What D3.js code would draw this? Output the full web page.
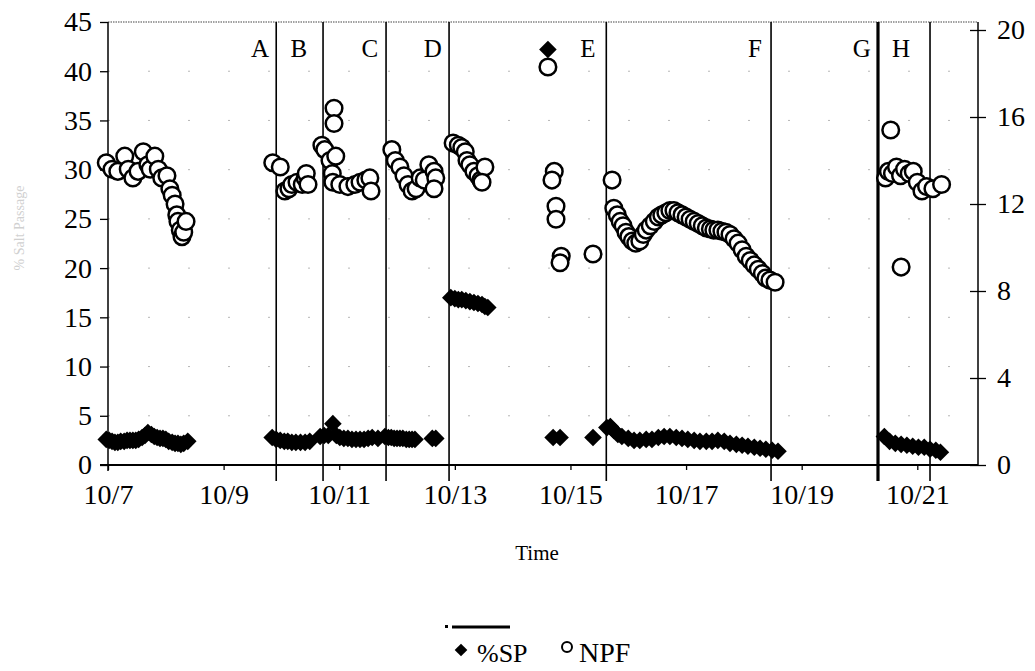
<!DOCTYPE html>
<html><head><meta charset="utf-8">
<script src="https://cdn.jsdelivr.net/npm/d3@7"></script>
<style>body{margin:0;background:#fff} text{font-family:"Liberation Serif","Times New Roman",serif}</style>
</head><body><svg id="c" width="1035" height="671"></svg>
<script>
// time = day of October (fractional)
const spTime=[6.97,7.02,7.07,7.12,7.17,7.22,7.28,7.33,7.38,7.43,7.48,7.53,7.59,7.64,7.69,7.75,7.80,7.85,7.90,7.95,8.00,8.05,8.11,8.16,8.21,8.26,8.31,8.38,
 9.84,9.91,9.98,10.05,10.11,10.18,10.25,10.33,10.41,10.49,
 10.67,10.74,10.81,10.89,10.95,11.01,11.08,11.15,11.22,11.29,11.36,11.43,11.50,11.57,11.67,
 11.79,11.85,11.90,11.95,12.00,12.05,12.10,12.16,12.21,12.26,12.31,12.61,12.67,
 12.93,13.00,13.06,13.12,13.19,13.26,13.33,13.40,13.47,13.52,13.57,
 14.61,14.70,14.82,15.39,
 15.63,15.69,15.75,15.82,15.89,16.00,16.10,16.20,16.31,16.41,16.52,16.62,16.72,16.83,16.93,17.03,17.14,17.24,17.35,17.45,17.55,17.66,17.76,17.87,17.97,18.07,18.18,18.28,18.38,18.49,18.59,
 20.43,20.52,20.62,20.72,20.82,20.92,21.02,21.12,21.22,21.32,21.40];
const spValue=[2.6,2.5,2.4,2.3,2.3,2.4,2.4,2.5,2.5,2.5,2.5,2.6,2.8,3.0,3.3,3.1,2.9,2.8,2.7,2.7,2.6,2.4,2.3,2.2,2.2,2.1,2.2,2.4,
 2.8,2.6,2.5,2.4,2.4,2.3,2.3,2.3,2.3,2.4,
 2.9,3.0,3.0,4.2,3.0,2.8,2.7,2.7,2.6,2.6,2.6,2.6,2.7,2.8,2.7,
 2.9,2.8,2.8,2.7,2.7,2.7,2.7,2.6,2.6,2.6,2.6,2.7,2.7,
 17.0,16.9,16.8,16.8,16.7,16.6,16.5,16.4,16.3,16.1,16.0,
 42.2,2.8,2.8,2.8,
 3.8,3.9,3.5,3.1,2.9,2.7,2.5,2.5,2.6,2.6,2.8,2.9,2.9,2.8,2.7,2.6,2.5,2.4,2.4,2.4,2.5,2.4,2.2,2.1,2.0,1.9,1.8,1.7,1.6,1.5,1.4,
 2.9,2.4,2.2,2.1,2.0,1.9,1.8,1.8,1.6,1.5,1.3];
const npfTime=[6.97,7.07,7.17,7.29,7.35,7.43,7.52,7.61,7.69,7.73,7.81,7.87,7.93,8.02,8.07,8.11,8.16,8.19,8.21,8.25,8.28,8.31,8.35,
 9.85,9.98,10.06,10.13,10.18,10.27,10.36,10.41,10.43,10.46,
 10.70,10.75,10.84,10.94,10.91,10.91,10.88,10.89,11.01,11.15,11.27,11.36,11.46,11.53,11.55,
 11.91,11.97,12.05,12.12,12.19,12.26,12.33,12.40,12.47,12.55,12.64,12.67,12.64,
 12.97,13.06,13.12,13.18,13.21,13.26,13.33,13.40,13.45,13.52,13.47,
 14.61,14.72,14.68,14.75,14.75,14.84,14.82,15.39,
 15.72,15.75,15.81,15.86,15.91,15.96,16.01,16.07,16.13,16.20,16.26,16.31,16.38,16.45,16.52,16.58,16.65,16.72,16.79,16.86,16.93,17.00,17.07,17.14,17.21,17.28,17.35,17.42,17.48,17.55,17.62,17.69,17.76,17.83,17.90,17.97,18.04,18.11,18.18,18.25,18.32,18.38,18.45,18.54,
 20.54,20.45,20.50,20.57,20.64,20.71,20.78,20.86,20.93,21.00,21.08,21.16,21.27,21.42,20.72];
const npfValue=[13.9,13.6,13.5,14.2,13.6,13.2,13.5,14.4,13.8,13.6,14.2,13.6,13.2,13.3,12.7,12.4,12.0,11.5,11.2,10.8,10.5,10.7,11.2,
 13.9,13.7,12.6,12.7,12.9,13.0,12.9,13.2,13.4,12.9,
 14.7,14.5,14.0,14.2,16.4,15.7,13.4,13.0,12.9,12.8,12.9,13.0,13.1,13.2,12.6,
 14.5,14.0,13.7,13.3,12.9,12.6,12.7,13.2,13.1,13.8,13.5,13.2,12.7,
 14.8,14.7,14.6,14.4,14.0,13.8,13.5,13.3,13.1,13.7,13.0,
 18.3,13.5,13.1,11.9,11.3,9.6,9.3,9.7,
 13.1,11.8,11.5,11.2,11.0,10.7,10.5,10.3,10.2,10.3,10.6,10.8,11.0,11.2,11.4,11.5,11.6,11.7,11.7,11.6,11.5,11.4,11.3,11.2,11.1,11.0,10.9,10.85,10.8,10.8,10.75,10.7,10.6,10.4,10.2,9.9,9.6,9.4,9.2,9.0,8.8,8.6,8.5,8.4,
 15.4,13.2,13.5,13.4,13.7,13.3,13.6,13.4,13.5,13.0,12.6,12.8,12.7,12.9,9.1];
const eventTimes=[9.91,10.72,11.81,12.90,15.62,18.47,20.32,21.22];
const eventLabels=["A","B","C","D","E","F","G","H"];
const labelTimes=[9.63,10.30,11.53,12.62,15.30,18.19,20.04,20.72];
const xTicks=[7,9,11,13,15,17,19,21];
const xTickLabels=["10/7","10/9","10/11","10/13","10/15","10/17","10/19","10/21"];
const leftTicks=[0,5,10,15,20,25,30,35,40,45];
const rightTicks=[0,4,8,12,16,20];
const seriesNames=["%SP","NPF"];
const xTitle="Time", yTitle="% Salt Passage";

const svg=d3.select("#c");
const L=108,R=978,T=22,B=465;
const x=d3.scaleLinear().domain([7,22.05]).range([L,R]);
const yL=d3.scaleLinear().domain([0,45]).range([B,T]);
const yR=d3.scaleLinear().domain([0,20]).range([B,30]);

// faint gridlines
svg.append("g").selectAll("line").data(leftTicks.filter(d=>d>0&&d<45)).join("line")
 .attr("x1",L).attr("x2",R).attr("y1",d=>yL(d)).attr("y2",d=>yL(d))
 .attr("stroke","#888").attr("stroke-width",1).attr("stroke-dasharray","2,38").attr("opacity",0.6);
// top dotted border
svg.append("line").attr("x1",L).attr("x2",R).attr("y1",T).attr("y2",T)
 .attr("stroke","#444").attr("stroke-width",1.2).attr("stroke-dasharray","1.5,1");

// axes
const ax=svg.append("g").attr("transform",`translate(${L},0)`)
 .call(d3.axisLeft(yL).tickValues(leftTicks).tickSize(8).tickPadding(8));
ax.select(".domain").remove();
const ar=svg.append("g").attr("transform",`translate(${R},0)`)
 .call(d3.axisRight(yR).tickValues(rightTicks).tickSize(8).tickPadding(11));
ar.select(".domain").remove();
ar.selectAll(".tick line").attr("x1",-8);
const ab=svg.append("g").attr("transform",`translate(0,${B})`)
 .call(d3.axisBottom(x).tickValues(xTicks).tickFormat((d,i)=>xTickLabels[i]).tickSize(5).tickPadding(14));
ab.select(".domain").remove();
[ax,ar,ab].forEach(g=>{g.selectAll("text").attr("font-size",28).attr("fill","#000").attr("font-family","Liberation Serif");
 g.selectAll(".tick line").attr("stroke","#000").attr("stroke-width",1.3);});
svg.append("line").attr("x1",L).attr("x2",L).attr("y1",T).attr("y2",B+6).attr("stroke","#000").attr("stroke-width",1.5);
svg.append("line").attr("x1",R).attr("x2",R).attr("y1",T).attr("y2",B).attr("stroke","#000").attr("stroke-width",1.5);
svg.append("line").attr("x1",L-8).attr("x2",R).attr("y1",B).attr("y2",B).attr("stroke","#000").attr("stroke-width",1.8);

// event lines
svg.append("g").selectAll("line").data(eventTimes).join("line")
 .attr("x1",d=>x(d)).attr("x2",d=>x(d)).attr("y1",T).attr("y2",B+16)
 .attr("stroke","#000").attr("stroke-width",(d,i)=>eventLabels[i]==="G"?3.2:1.6);
svg.append("g").selectAll("text").data(labelTimes).join("text")
 .attr("x",d=>x(d)).attr("y",57).attr("text-anchor","middle").attr("font-size",25).text((d,i)=>eventLabels[i]);

// %SP diamonds
const sp=spTime.map((t,i)=>[t,spValue[i]]);
const npf=npfTime.map((t,i)=>[t,npfValue[i]]);
const sq=d3.symbol(d3.symbolSquare,155)();
svg.append("g").selectAll("path").data(sp).join("path")
 .attr("d",sq).attr("transform",d=>`translate(${x(d[0])},${yL(d[1])}) rotate(45)`).attr("fill","#000");
// NPF circles
svg.append("g").selectAll("circle").data(npf).join("circle")
 .attr("cx",d=>x(d[0])).attr("cy",d=>yR(d[1])).attr("r",8.3)
 .attr("fill","#fff").attr("stroke","#000").attr("stroke-width",2.5);

// titles
svg.append("text").attr("x",537).attr("y",560).attr("text-anchor","middle").attr("font-size",21).text(xTitle);
svg.append("text").attr("transform","translate(24,228) rotate(-90)").attr("text-anchor","middle")
 .attr("font-size",14).attr("fill","#d0d0d0").text(yTitle);

// legend
svg.append("rect").attr("x",445).attr("y",625).attr("width",3).attr("height",3).attr("fill","#000");
svg.append("line").attr("x1",452).attr("x2",510).attr("y1",627).attr("y2",627).attr("stroke","#000").attr("stroke-width",3);
svg.append("path").attr("d",d3.symbol(d3.symbolSquare,80)()).attr("transform","translate(461,650) rotate(45)").attr("fill","#000");
svg.append("text").attr("x",477).attr("y",662).attr("font-size",26).text(seriesNames[0]);
svg.append("circle").attr("cx",567).attr("cy",647).attr("r",5).attr("fill","#fff").attr("stroke","#000").attr("stroke-width",2);
svg.append("text").attr("x",579).attr("y",662).attr("font-size",28).text(seriesNames[1]);
</script></body></html>
